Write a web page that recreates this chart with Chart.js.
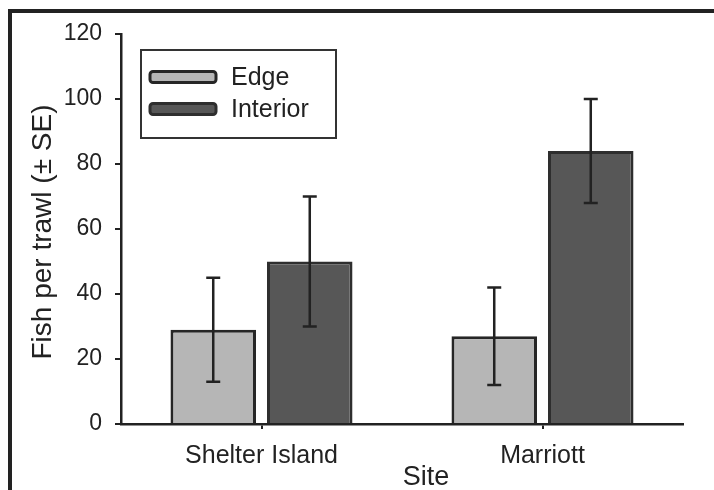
<!DOCTYPE html>
<html>
<head>
<meta charset="utf-8">
<script src="https://cdn.jsdelivr.net/npm/chart.js@4/dist/chart.umd.min.js"></script>
<style>
  html, body { margin: 0; padding: 0; background: #fff; }
  canvas { display: block; }
</style>
</head>
<body>
<canvas id="chart" width="714" height="490"></canvas>
<script>
// Sites sampled and mean catch per trawl with standard errors
const sites = ['Shelter Island', 'Marriott'];
const edgeMeans = [29, 27];
const edgeSE = [16, 15];
const interiorMeans = [50, 84];
const interiorSE = [20, 16];
const seriesNames = ['Edge', 'Interior'];
const yTickValues = [0, 20, 40, 60, 80, 100, 120];

const FONT = '"Liberation Sans", Arial, Helvetica, sans-serif';
const INK = '#222222';

// Outer figure frame (left and top rules)
const framePlugin = {
  id: 'frame',
  beforeDraw(chart) {
    const ctx = chart.ctx;
    ctx.save();
    ctx.fillStyle = '#ffffff';
    ctx.fillRect(0, 0, chart.width, chart.height);
    ctx.strokeStyle = INK;
    ctx.lineWidth = 4;
    ctx.beginPath();
    ctx.moveTo(10, chart.height);
    ctx.lineTo(10, 11);
    ctx.lineTo(chart.width, 11);
    ctx.stroke();
    ctx.restore();
  }
};

// Vertical error bars (mean ± SE) drawn through the y scale
const errorBarPlugin = {
  id: 'errorBars',
  afterDatasetsDraw(chart) {
    const ctx = chart.ctx;
    const y = chart.scales.y;
    ctx.save();
    ctx.strokeStyle = INK;
    ctx.lineWidth = 2.5;
    chart.data.datasets.forEach((ds, di) => {
      const meta = chart.getDatasetMeta(di);
      meta.data.forEach((bar, i) => {
        const v = ds.data[i];
        const e = ds.errors[i];
        const yTop = y.getPixelForValue(v + e);
        const yBot = y.getPixelForValue(v - e);
        const x = bar.x;
        const cap = 7;
        ctx.beginPath();
        ctx.moveTo(x, yTop);
        ctx.lineTo(x, yBot);
        ctx.moveTo(x - cap, yTop);
        ctx.lineTo(x + cap, yTop);
        ctx.moveTo(x - cap, yBot);
        ctx.lineTo(x + cap, yBot);
        ctx.stroke();
      });
    });
    ctx.restore();
  }
};

// Axis titles
const titlesPlugin = {
  id: 'axisTitles',
  afterDraw(chart) {
    const ctx = chart.ctx;
    const area = chart.chartArea;
    ctx.save();
    ctx.fillStyle = INK;
    ctx.textAlign = 'center';
    ctx.textBaseline = 'middle';
    ctx.font = '27px ' + FONT;
    ctx.fillText('Site', 426, 478);
    ctx.font = '28px ' + FONT;
    ctx.translate(43, (area.top + area.bottom) / 2 + 3);
    ctx.rotate(-Math.PI / 2);
    ctx.fillText('Fish per trawl (\u00B1 SE)', 0, 0);
    ctx.restore();
  }
};

// Boxed legend in the upper left of the plot
const boxLegendPlugin = {
  id: 'boxLegend',
  afterDraw(chart) {
    const ctx = chart.ctx;
    const box = { x: 141, y: 50, w: 195, h: 88 };
    ctx.save();
    ctx.strokeStyle = '#333333';
    ctx.lineWidth = 2;
    ctx.strokeRect(box.x, box.y, box.w, box.h);
    ctx.font = '25px ' + FONT;
    ctx.textBaseline = 'middle';
    ctx.textAlign = 'left';
    chart.data.datasets.forEach((ds, i) => {
      const cy = 77 + i * 32;
      const sx = 150, sw = 66, sh = 11;
      ctx.beginPath();
      if (ctx.roundRect) ctx.roundRect(sx, cy - sh / 2, sw, sh, 3);
      else ctx.rect(sx, cy - sh / 2, sw, sh);
      ctx.fillStyle = ds.backgroundColor;
      ctx.fill();
      ctx.lineWidth = 3;
      ctx.strokeStyle = ds.borderColor;
      ctx.stroke();
      ctx.fillStyle = INK;
      ctx.fillText(ds.label, 231, cy + 1);
    });
    ctx.restore();
  }
};

new Chart(document.getElementById('chart'), {
  type: 'bar',
  data: {
    labels: sites,
    datasets: [
      {
        label: seriesNames[0],
        data: edgeMeans,
        errors: edgeSE,
        backgroundColor: '#b6b6b6',
        borderColor: '#262626',
        borderWidth: 3
      },
      {
        label: seriesNames[1],
        data: interiorMeans,
        errors: interiorSE,
        backgroundColor: '#575757',
        borderColor: '#2e2e2e',
        borderWidth: 3
      }
    ]
  },
  options: {
    responsive: false,
    animation: false,
    devicePixelRatio: 1,
    categoryPercentage: 0.687,
    barPercentage: 0.886,
    layout: { padding: { left: 0, top: 34, right: 31, bottom: 0 } },
    plugins: {
      legend: { display: false },
      tooltip: { enabled: false }
    },
    scales: {
      x: {
        offset: true,
        grid: {
          offset: false,
          drawOnChartArea: false,
          drawTicks: true,
          tickLength: 5,
          color: INK,
          lineWidth: 2
        },
        border: { display: true, color: INK, width: 2.5 },
        ticks: {
          color: INK,
          font: { family: FONT, size: 25 },
          padding: 12,
          maxRotation: 0
        },
        afterFit(scale) { scale.height = 66; }
      },
      y: {
        min: 0,
        max: 120,
        afterBuildTicks(scale) {
          scale.ticks = yTickValues.map(v => ({ value: v }));
        },
        grid: {
          drawOnChartArea: false,
          drawTicks: true,
          tickLength: 6,
          color: INK,
          lineWidth: 2
        },
        border: { display: true, color: INK, width: 2.5 },
        ticks: {
          color: INK,
          font: { family: FONT, size: 23 },
          padding: 13
        },
        afterFit(scale) { scale.width = 121; }
      }
    }
  },
  plugins: [framePlugin, errorBarPlugin, titlesPlugin, boxLegendPlugin]
});
</script>
</body>
</html>
